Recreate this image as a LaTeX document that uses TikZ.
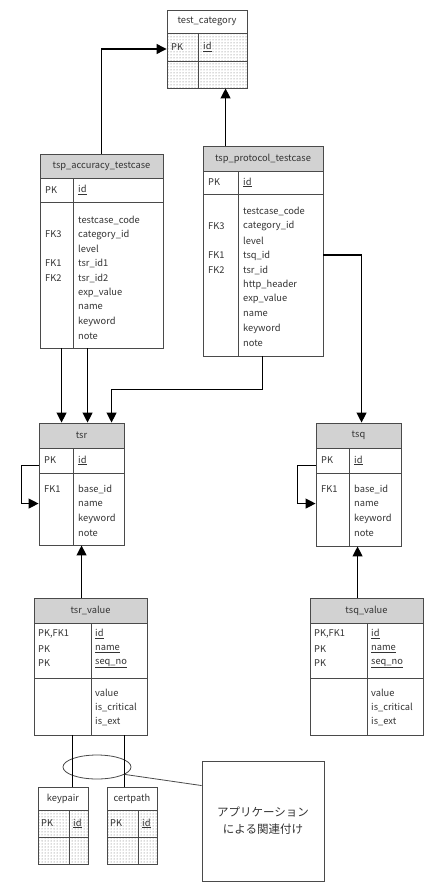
\documentclass[tikz,border=0pt]{standalone}
\usepackage{fontspec}
\setmainfont{Noto Sans CJK JP}
\usetikzlibrary{fit,patterns,arrows.meta,shapes.geometric}
\definecolor{linec}{HTML}{4A4A4A}
\definecolor{txtc}{HTML}{333333}
\definecolor{titlec}{HTML}{D2D2D2}
\tikzset{
  tline/.style={draw=linec,line width=0.8pt},
  tbl/.style={draw=linec,line width=0.9pt,inner sep=0pt},
  lbl/.style={anchor=west,inner sep=0pt,text=txtc,font=\fontsize{9.3}{11}\selectfont},
  ttl/.style={inner sep=0pt,text=txtc,font=\fontsize{9.3}{11}\selectfont},
  arr/.style={draw=black,line width=1.2pt,-{Triangle[length=10pt,width=10pt]}},
  conn/.style={draw=black,line width=0.9pt},
  dotfill/.style={pattern=dots,pattern color=black!60},
}
% name, x1, y1, x2, y2, ytitle, ypk, xdiv, title fill
\newcommand\ertab[9]{%
  \fill[#9] (#2,#3) rectangle (#4,#6);
  \draw[tline] (#2,#6) -- (#4,#6) (#2,#7) -- (#4,#7) (#8,#6) -- (#8,#5);
  \node[tbl,fit={(#2,#3)(#4,#5)}] (#1) {};
}
\begin{document}
\begin{tikzpicture}[x=1pt,y=-1pt]
\useasboundingbox[fill=white] (0,0) rectangle (431,883);

% ---------- test_category ----------
\fill[dotfill] (167,33) rectangle (247,88);
\ertab{tc}{167}{10}{247}{88}{33}{61}{198}{white}
\node[ttl] (tct) at (207,21.5) {test\_category};
\node[lbl] (tcpk) at (171,47) {PK};
\node[lbl] (tcid) at (203,47) {\underline{id}};

% ---------- tsp_accuracy_testcase ----------
\ertab{acc}{40}{154}{163}{348}{178}{202}{73}{titlec}
\node[ttl] (acct) at (101.5,166) {tsp\_accuracy\_testcase};
\node[lbl] (accpk) at (45,190) {PK};
\node[lbl] (accid) at (78,190) {\underline{id}};
\node[lbl] (acca1) at (78,220.0) {testcase\_code};
\node[lbl] (acca2) at (78,234.5) {category\_id};
\node[lbl] (acca3) at (78,249.0) {level};
\node[lbl] (acca4) at (78,263.5) {tsr\_id1};
\node[lbl] (acca5) at (78,278.0) {tsr\_id2};
\node[lbl] (acca6) at (78,292.5) {exp\_value};
\node[lbl] (acca7) at (78,307.0) {name};
\node[lbl] (acca8) at (78,321.5) {keyword};
\node[lbl] (acca9) at (78,336.0) {note};
\node[lbl] (accf3) at (45,234.5) {FK3};
\node[lbl] (accf1) at (45,263.5) {FK1};
\node[lbl] (accf2) at (45,278.0) {FK2};

% ---------- tsp_protocol_testcase ----------
\ertab{prot}{203}{146}{323}{356}{171}{194}{238}{titlec}
\node[ttl] (prott) at (263,158.5) {tsp\_protocol\_testcase};
\node[lbl] (protpk) at (208,182.5) {PK};
\node[lbl] (protid) at (243,182.5) {\underline{id}};
\node[lbl] (prota1) at (243,211.7) {testcase\_code};
\node[lbl] (prota2) at (243,226.3) {category\_id};
\node[lbl] (prota3) at (243,240.9) {level};
\node[lbl] (prota4) at (243,255.5) {tsq\_id};
\node[lbl] (prota5) at (243,270.1) {tsr\_id};
\node[lbl] (prota6) at (243,284.7) {http\_header};
\node[lbl] (prota7) at (243,299.3) {exp\_value};
\node[lbl] (prota8) at (243,313.9) {name};
\node[lbl] (prota9) at (243,328.5) {keyword};
\node[lbl] (prota10) at (243,343.1) {note};
\node[lbl] (protf3) at (208,226.3) {FK3};
\node[lbl] (protf1) at (208,255.5) {FK1};
\node[lbl] (protf2) at (208,270.1) {FK2};

% ---------- tsr ----------
\ertab{tsr}{39}{423}{124}{545}{448}{473}{73}{titlec}
\node[ttl] (tsrt) at (81.5,435.5) {tsr};
\node[lbl] (tsrpk) at (44,460.5) {PK};
\node[lbl] (tsrid) at (78,460.5) {\underline{id}};
\node[lbl] (tsrf1) at (44,489.3) {FK1};
\node[lbl] (tsra1) at (78,489.3) {base\_id};
\node[lbl] (tsra2) at (78,503.9) {name};
\node[lbl] (tsra3) at (78,518.5) {keyword};
\node[lbl] (tsra4) at (78,533.1) {note};

% ---------- tsq ----------
\ertab{tsq}{316}{423}{401}{546}{448}{473}{349}{titlec}
\node[ttl] (tsqt) at (358.5,435.5) {tsq};
\node[lbl] (tsqpk) at (321,460.5) {PK};
\node[lbl] (tsqid) at (354,460.5) {\underline{id}};
\node[lbl] (tsqf1) at (321,489.3) {FK1};
\node[lbl] (tsqa1) at (354,489.3) {base\_id};
\node[lbl] (tsqa2) at (354,503.9) {name};
\node[lbl] (tsqa3) at (354,518.5) {keyword};
\node[lbl] (tsqa4) at (354,533.1) {note};

% ---------- tsr_value ----------
\ertab{tsrv}{34}{598}{147}{735}{623}{678}{91}{titlec}
\node[ttl] (tsrvt) at (90.5,610.5) {tsr\_value};
\node[lbl] (tsrvp1) at (38,634.3) {PK,FK1};
\node[lbl] (tsrvp2) at (38,649.0) {PK};
\node[lbl] (tsrvp3) at (38,663.5) {PK};
\node[lbl] (tsrvk1) at (95,634.3) {\underline{id}};
\node[lbl] (tsrvk2) at (95,649.0) {\underline{name}};
\node[lbl] (tsrvk3) at (95,663.5) {\underline{seq\_no}};
\node[lbl] (tsrva1) at (95,692.7) {value};
\node[lbl] (tsrva2) at (95,707.3) {is\_critical};
\node[lbl] (tsrva3) at (95,721.9) {is\_ext};

% ---------- tsq_value ----------
\ertab{tsqv}{310}{598}{423}{735}{623}{678}{367}{titlec}
\node[ttl] (tsqvt) at (366.5,610.5) {tsq\_value};
\node[lbl] (tsqvp1) at (314,634.3) {PK,FK1};
\node[lbl] (tsqvp2) at (314,649.0) {PK};
\node[lbl] (tsqvp3) at (314,663.5) {PK};
\node[lbl] (tsqvk1) at (371,634.3) {\underline{id}};
\node[lbl] (tsqvk2) at (371,649.0) {\underline{name}};
\node[lbl] (tsqvk3) at (371,663.5) {\underline{seq\_no}};
\node[lbl] (tsqva1) at (371,692.7) {value};
\node[lbl] (tsqva2) at (371,707.3) {is\_critical};
\node[lbl] (tsqva3) at (371,721.9) {is\_ext};

% ---------- keypair ----------
\fill[dotfill] (38,810) rectangle (88,864);
\ertab{kp}{38}{787}{88}{864}{810}{837}{69}{white}
\node[ttl] (kpt) at (63,798.5) {keypair};
\node[lbl] (kppk) at (41,823.5) {PK};
\node[lbl] (kpid) at (73,823.5) {\underline{id}};

% ---------- certpath ----------
\fill[dotfill] (107,810) rectangle (157,864);
\ertab{cp}{107}{787}{157}{864}{810}{837}{138}{white}
\node[ttl] (cpt) at (132,798.5) {certpath};
\node[lbl] (cppk) at (110,823.5) {PK};
\node[lbl] (cpid) at (142,823.5) {\underline{id}};

% ---------- note ----------
\node[draw=linec,line width=0.9pt,minimum width=122pt,minimum height=120pt,inner sep=0pt,
      align=center,text=txtc,font=\fontsize{11.5}{17}\selectfont] (note) at (263,821)
      {アプリケーション\\による関連付け};
\node[ellipse,draw=linec,line width=0.8pt,minimum width=68pt,minimum height=24pt,inner sep=0pt] (ell) at (97,767) {};

% ---------- connectors ----------
\draw[arr] ([xshift=62pt]acc.north west) |- (tc.west);
\draw[arr] ([xshift=23pt]prot.north west) -- ([xshift=23pt]prot.north west |- tc.south);
\draw[arr] ([xshift=22pt]acc.south west) -- ([xshift=22pt]acc.south west |- tsr.north);
\draw[arr] ([xshift=48pt]acc.south west) -- ([xshift=48pt]acc.south west |- tsr.north);
\draw[arr] ([xshift=60pt]prot.south west) -- ++(0,33) -| ([xshift=73pt]tsr.north west);
\draw[arr] ([yshift=-4pt]prot.east) -| ([xshift=46pt]tsq.north west);
\draw[arr] ([xshift=48pt]tsrv.north west) -- ([xshift=48pt]tsrv.north west |- tsr.south);
\draw[arr] ([xshift=48pt]tsqv.north west) -- ([xshift=48pt]tsqv.north west |- tsq.south);
\draw[arr] ([yshift=-43pt]tsr.north west) -- ++(-17,0) |- ([yshift=-81pt]tsr.north west);
\draw[arr] ([yshift=-43pt]tsq.north west) -- ++(-18,0) |- ([yshift=-81pt]tsq.north west);
\draw[conn] ([xshift=39pt]tsrv.south west) -- ([xshift=39pt]tsrv.south west |- kp.north);
\draw[conn] ([xshift=91pt]tsrv.south west) -- ([xshift=91pt]tsrv.south west |- cp.north);
\draw[draw=linec,line width=0.8pt] (ell.-15) -- ([yshift=-25pt]note.north west);
\end{tikzpicture}
\end{document}
